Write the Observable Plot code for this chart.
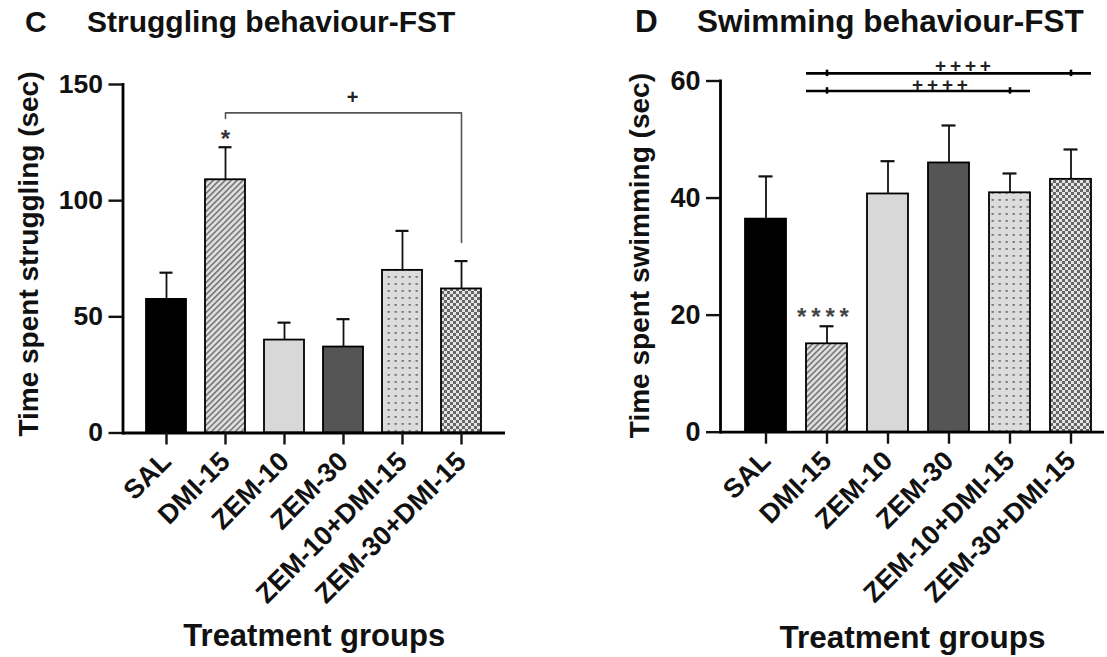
<!DOCTYPE html>
<html>
<head>
<meta charset="utf-8">
<script src="https://cdn.jsdelivr.net/npm/d3@7"></script>
<script src="https://cdn.jsdelivr.net/npm/@observablehq/plot@0.6"></script>
<style>
  html, body { margin: 0; padding: 0; background: #fff; }
  body { width: 1107px; height: 657px; position: relative; overflow: hidden;
         font-family: "Liberation Sans", Arial, sans-serif; font-weight: bold; color: #111; }
  .panel { position: absolute; top: 0; }
  .title { position: absolute; white-space: nowrap; }
  .tC { top: 7px; font-size: 30px; line-height: 30px; }
  .tD { top: 6px; font-size: 31.5px; line-height: 31.5px; }
  .chart { position: absolute; top: 42px; left: 0; }
</style>
</head>
<body>
<svg width="0" height="0" style="position:absolute">
  <defs>
    <pattern id="hatch" patternUnits="userSpaceOnUse" width="4.2" height="4.2" patternTransform="rotate(45)">
      <rect width="4.2" height="4.2" fill="#dedede"></rect>
      <line x1="0.8" y1="0" x2="0.8" y2="4.2" stroke="#707070" stroke-width="1.5"></line>
    </pattern>
    <pattern id="dots" patternUnits="userSpaceOnUse" width="7" height="7">
      <rect width="7" height="7" fill="#dcdcdc"></rect>
      <rect x="2.5" y="3" width="2.4" height="1.8" fill="#7a7a7a"></rect>
    </pattern>
    <pattern id="checker" patternUnits="userSpaceOnUse" width="6" height="6">
      <rect width="6" height="6" fill="#e4e4e4"></rect>
      <rect x="0" y="0" width="3" height="3" fill="#666"></rect>
      <rect x="3" y="3" width="3" height="3" fill="#666"></rect>
    </pattern>
  </defs>
</svg>

<div class="panel" id="panelC" style="left:0; width:530px;">
  <div class="title tC" style="left:25px;">C</div>
  <div class="title tC" style="left:87px;">Struggling behaviour-FST</div>
  <div class="chart" id="chartC"></div>
</div>
<div class="panel" id="panelD" style="left:555px; width:552px;">
  <div class="title tD" style="left:80px;">D</div>
  <div class="title tD" style="left:142px;">Swimming behaviour-FST</div>
  <div class="chart" id="chartD"></div>
</div>

<script>
// ---------- data ----------
const groups = ["SAL", "DMI-15", "ZEM-10", "ZEM-30", "ZEM-10+DMI-15", "ZEM-30+DMI-15"];
const strugglingMean = [57.5, 109, 40, 37, 70, 62];
const strugglingSem  = [11.5, 14, 7.5, 12, 17, 12];
const swimmingMean   = [36.4, 15.1, 40.7, 46.0, 40.9, 43.2];
const swimmingSem    = [7.3, 3.0, 5.6, 6.4, 3.3, 5.1];
const ticksC = [0, 50, 100, 150];
const ticksD = [0, 20, 40, 60];
const xLabel = "Treatment groups";
const yLabelC = "Time spent struggling (sec)";
const yLabelD = "Time spent swimming (sec)";
// significance annotations
const bracketC = [
  {group: "DMI-15", y: 135.4}, {group: "DMI-15", y: 137.8},
  {group: "ZEM-30+DMI-15", y: 137.8}, {group: "ZEM-30+DMI-15", y: 82}
];
const starC = [{group: "DMI-15", y: 126.2, text: "*"}];
const plusC = [{group: "ZEM-30", y: 144.3, text: "+"}];
const sigLinesD = [
  {from: "DMI-15", to: "ZEM-30+DMI-15", y: 61.3, text: "++++", at: "ZEM-30", ty: 62.5},
  {from: "DMI-15", to: "ZEM-10+DMI-15", y: 58.3, text: "++++", at: "ZEM-30", ty: 59.3}
];
const starD = [{group: "DMI-15", y: 19.6, text: "****"}];

// ---------- styles ----------
const fills = ["#000000", "url(#hatch)", "#d8d8d8", "#555555", "url(#dots)", "url(#checker)"];
const FONT = "'Liberation Sans', Arial, sans-serif";

const rowsC = groups.map((g, i) => ({group: g, mean: strugglingMean[i], sem: strugglingSem[i]}));
const rowsD = groups.map((g, i) => ({group: g, mean: swimmingMean[i], sem: swimmingSem[i]}));

function spaced(s) { return s.split("").join("\u2009"); }

function panel(o) {
  return Plot.plot({
    width: o.width, height: 615,
    marginLeft: o.marginLeft, marginRight: o.marginRight,
    marginTop: o.marginTop, marginBottom: o.marginBottom,
    style: {fontFamily: FONT, fontWeight: "bold", fontSize: "26px", color: "#111", background: "transparent", overflow: "visible"},
    x: {domain: groups, paddingInner: o.pi, paddingOuter: o.po, align: o.align, axis: null},
    y: {domain: o.yDomain, axis: null},
    color: {domain: groups, range: fills},
    marks: [
      Plot.barY(o.rows, {x: "group", y: "mean", fill: "group", stroke: "#000", strokeWidth: 1.8}),
      Plot.ruleX(o.rows, {x: "group", y1: "mean", y2: d => d.mean + d.sem, stroke: "#111", strokeWidth: 1.8}),
      Plot.tickY(o.rows, {x: "group", y: d => d.mean + d.sem, insetLeft: 13.5, insetRight: 13.5, stroke: "#111", strokeWidth: 2.2}),
      Plot.ruleY([0], {stroke: "#000", strokeWidth: 2.8}),
      Plot.frame({anchor: "left", stroke: "#000", strokeWidth: 2.8}),
      Plot.axisY(o.yTicks, {tickSize: 14, tickPadding: 6, strokeWidth: 2.4, fontSize: o.tickFont, label: null, fill: "#111"}),
      Plot.axisX({tickSize: 12, tickPadding: 12, strokeWidth: 2.4, tickRotate: -45, fontSize: 27, label: null, fill: "#111"}),
      Plot.text([o.yLabel], {frameAnchor: "left", textAnchor: "middle", lineAnchor: "middle", rotate: -90, dx: o.yLabelDx, dy: o.yLabelDy, fontSize: 28, fill: "#111"}),
      Plot.text([xLabel], {frameAnchor: "bottom", textAnchor: "middle", dy: o.xLabelDy, fontSize: o.xLabelFont, fill: "#111"}),
      ...o.extras
    ]
  });
}

const chartC = panel({
  width: 530, marginLeft: 122.5, marginRight: 25, marginTop: 42, marginBottom: 224.5,
  pi: 0.32, po: 0.363, align: 0.5, tickFont: 26.5, xLabelFont: 31,
  rows: rowsC, yDomain: [0, 150], yTicks: ticksC, yLabel: yLabelC,
  yLabelDx: -93.5, yLabelDy: -4.7, xLabelDy: 213,
  extras: [
    Plot.line(bracketC, {x: "group", y: "y", stroke: "#555", strokeWidth: 1.6}),
    Plot.text(starC, {x: "group", y: "y", text: "text", fontSize: 24, fill: "#333"}),
    Plot.text(plusC, {x: "group", y: "y", text: "text", dx: 9, fontSize: 20, fill: "#222"})
  ]
});
document.getElementById("chartC").appendChild(chartC);

const chartD = panel({
  width: 552, marginLeft: 165, marginRight: 3, marginTop: 38.5, marginBottom: 225.3,
  pi: 0.332, po: 0.293, align: 0.65, tickFont: 27, xLabelFont: 31.5,
  rows: rowsD, yDomain: [0, 60], yTicks: ticksD, yLabel: yLabelD,
  yLabelDx: -80, yLabelDy: -1, xLabelDy: 216,
  extras: [
    Plot.ruleY(sigLinesD, {x1: "from", x2: "to", y: "y", stroke: "#000", strokeWidth: 2.6}),
    Plot.ruleX(sigLinesD, {x: "from", y1: d => d.y - 0.55, y2: d => d.y + 0.55, stroke: "#000", strokeWidth: 2.6}),
    Plot.ruleX(sigLinesD, {x: "to", y1: d => d.y - 0.55, y2: d => d.y + 0.55, stroke: "#000", strokeWidth: 2.6}),
    Plot.text(sigLinesD.slice(0, 1), {x: "at", y: "ty", text: d => spaced(d.text), dx: 14, fontSize: 19, fill: "#222"}),
    Plot.text(sigLinesD.slice(1), {x: "at", y: "ty", text: d => spaced(d.text), dx: -9, fontSize: 19, fill: "#222"}),
    Plot.text(starD, {x: "group", y: "y", text: d => spaced(d.text), dx: -4, fontSize: 24, fill: "#444"})
  ]
});
document.getElementById("chartD").appendChild(chartD);
</script>
</body>
</html>
